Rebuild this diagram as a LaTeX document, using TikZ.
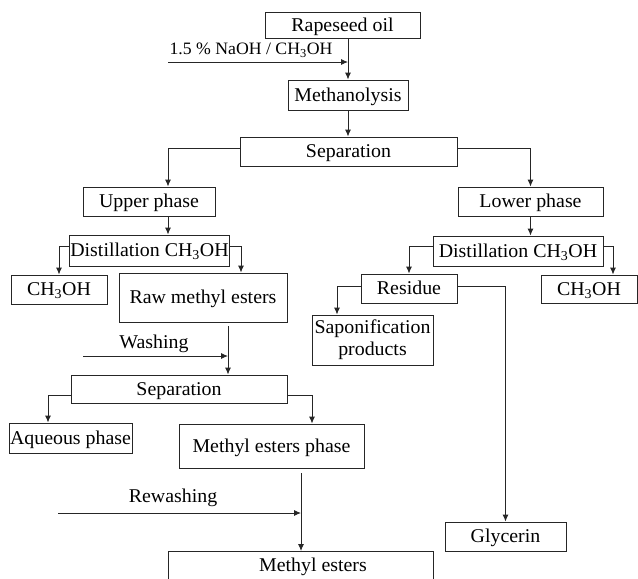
\documentclass[tikz,border=0pt]{standalone}
\usepackage{fontspec}
\setmainfont[FakeStretch=1.02]{Liberation Serif}
\usetikzlibrary{arrows.meta,positioning}

\tikzset{
  box/.style={draw=black!85, line width=0.9pt, inner xsep=1pt, inner ysep=2pt, minimum height=29pt,
    text height=13pt, text depth=1pt, font=\fontsize{19.5}{22}\selectfont},
  arr/.style={draw=black!85, line width=0.9pt, -{Latex[length=7pt,width=6pt]}},
  feed/.style={font=\fontsize{19.5}{22}\selectfont, inner sep=0pt},
}
\newcommand{\meoh}{CH\textsubscript{3}OH}

\begin{document}
\begin{tikzpicture}[x=1pt, y=-1pt]
\clip (0,0) rectangle (638,579);
% main line
\node[box, minimum width=155pt, minimum height=26pt] (oil) at (342.5,25) {Rapeseed oil};
\node[box, minimum width=120pt, minimum height=30pt] (meth) at (348,95) {Methanolysis};
\node[box, minimum width=217pt] (sep) at (348.5,151.5) {Separation};
% upper phase side
\node[box, minimum width=132pt] (up) at (149,201.5) {Upper phase};
\node[box, minimum width=157pt, minimum height=31pt] (distL) at (149.5,250.5) {Distillation \meoh};
\node[box, minimum width=96pt] (mL) at (59,289.5) {\meoh};
\node[box, minimum width=168pt, minimum height=49pt] (raw) at (203,297.5) {Raw methyl esters};
\node[box, minimum width=216pt, minimum height=28pt] (sep2) at (179,389) {Separation};
\node[box, minimum width=121pt, minimum height=30pt] (aq) at (70.5,438) {Aqueous phase};
\node[box, minimum width=185pt, minimum height=44pt] (mep) at (271.5,446) {Methyl esters phase};
\node[box, anchor=north, minimum width=265pt, inner ysep=7pt, text depth=40pt] (me) at (300.5,551) {\hspace*{25pt}Methyl esters};
% lower phase side
\node[box, minimum width=145pt] (low) at (530.5,201.5) {Lower phase};
\node[box, minimum width=170pt, minimum height=30pt] (distR) at (518,251) {Distillation \meoh};
\node[box, minimum width=96pt] (res) at (409,288.5) {Residue};
\node[box, minimum width=96pt, minimum height=28pt] (mR) at (589,289) {\meoh};
\node[box, minimum width=121pt, minimum height=50pt, text height={}, text depth={}, align=center] (sap) at (372.5,340) {Saponification\\products};
\node[box, minimum width=121pt] (gly) at (505.5,536.5) {Glycerin};

% feeds
\coordinate (addin) at (168,62);
\node[feed, font=\fontsize{17.4}{19}\selectfont] (addtxt) at (251,50) {1.5 \% NaOH / \meoh};
\coordinate (washin) at (83,356);
\node[feed] (washtxt) at (154,344) {Washing};
\coordinate (rewashin) at (58,513);
\node[feed] (rewashtxt) at (173,498) {Rewashing};

% off-centre arrow ends
\coordinate (upin) at ([xshift=19pt]up.north);
\coordinate (upout) at ([xshift=19pt]up.south);
\coordinate (rawin) at ([xshift=38pt]raw.north);
\coordinate (rawout) at ([xshift=25pt,yshift=-4pt]raw.south);
\coordinate (aqin) at ([xshift=-22.5pt]aq.north);
\coordinate (mepin) at ([xshift=40.5pt]mep.north);
\coordinate (mepout) at ([xshift=29.5pt,yshift=-5pt]mep.south);
\coordinate (mRin) at ([xshift=24pt]mR.north);
\coordinate (sapin) at ([xshift=-35.5pt]sap.north);

% connectors
\draw[arr] (oil.south -| meth.north) -- (meth.north);
\draw[arr] (addin) -- (addin -| meth.north);
\draw[arr] (meth.south) -- (meth.south |- sep.north);
\draw[arr] ([yshift=3.5pt]sep.west) -| (upin);
\draw[arr] (upout) -- (upout |- distL.north);
\draw[arr] ([yshift=4.5pt]distL.west) -| (mL.north);
\draw[arr] ([yshift=4.5pt]distL.east) -| (rawin);
\draw[arr] (rawout) -- (rawout |- sep2.north);
\draw[arr] (washin) -- (washin -| rawout);
\draw[arr] ([yshift=-6pt]sep2.west) -| (aqin);
\draw[arr] ([yshift=-6pt]sep2.east) -| (mepin);
\draw[arr] (mepout) -- (mepout |- me.north);
\draw[arr] (rewashin) -- (rewashin -| mepout);
\draw[arr] ([yshift=3.5pt]sep.east) -| (low.north);
\draw[arr] (low.south) -- (low.south |- distR.north);
\draw[arr] ([yshift=4.5pt]distR.west) -| (res.north);
\draw[arr] ([yshift=4.5pt]distR.east) -| (mRin);
\draw[arr] ([yshift=2.5pt]res.west) -| (sapin);
\draw[arr] ([yshift=2.5pt]res.east) -| (gly.north);
\end{tikzpicture}
\end{document}
